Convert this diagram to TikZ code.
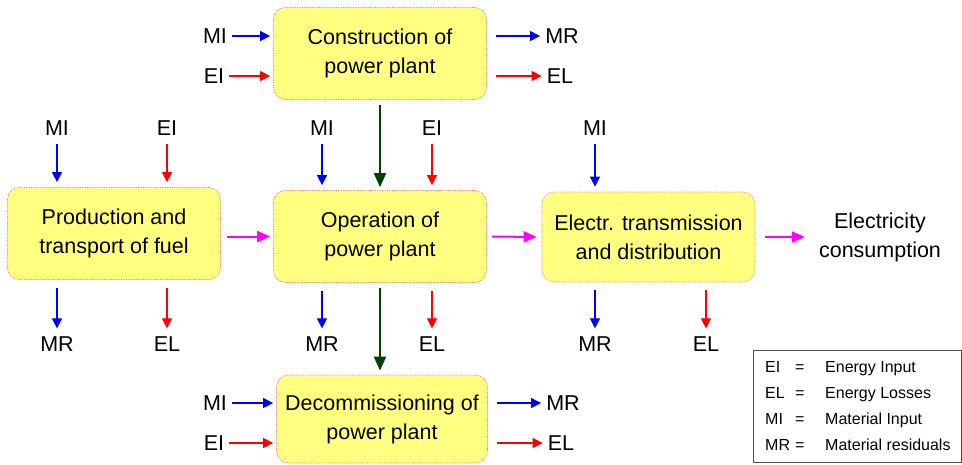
\documentclass[tikz,border=0pt]{standalone}
\usepackage{fontspec}
\setmainfont{Liberation Sans}
\usetikzlibrary{arrows.meta}
\definecolor{boxfill}{RGB}{255,255,128}
\definecolor{boxline}{RGB}{240,110,110}
\definecolor{dgreen}{RGB}{0,64,0}
\definecolor{mag}{RGB}{255,0,255}
\tikzset{
  x=1pt,y=-1pt,
  procbox/.style={draw=boxline, densely dotted, line width=0.7pt, fill=boxfill,
     rounded corners=12pt, align=center, font=\fontsize{21.5}{29}\selectfont,
     minimum width=213pt, minimum height=92pt, inner sep=0pt},
  lab/.style={font=\fontsize{21.5}{25}\selectfont, inner sep=0pt},
  arr/.style={line width=1.1pt, -{Triangle[length=10pt,width=10pt]}},
  mi/.style={arr, blue},
  ei/.style={arr, red},
  flow/.style={line width=2pt, mag, -{Triangle[length=13pt,width=11pt]}},
  gflow/.style={line width=2pt, dgreen, -{Triangle[length=14pt,width=12pt]}},
  hin/.style={shorten <=5pt, shorten >=3pt},
  hout/.style={shorten <=9pt, shorten >=5pt},
  vin/.style={shorten <=8pt, shorten >=5pt},
  vout/.style={shorten <=8pt, shorten >=8pt},
  leg/.style={font=\fontsize{16}{19}\selectfont, inner sep=0pt, anchor=base west},
}
\begin{document}
\begin{tikzpicture}
\useasboundingbox (0,0) rectangle (962,464);
% boxes
\node[procbox] (cons) at (380,53.5) {Construction of\\power plant};
\node[procbox] (prod) at (114,233.5) {Production and\\transport of fuel};
\node[procbox] (op) at (380,236.5) {Operation of\\power plant};
\node[procbox, minimum height=90pt] (el) at (648.5,237) {Electr. transmission\\and distribution};
\node[procbox, minimum height=88pt, minimum width=211pt] (dec) at (382,419) {Decommissioning of\\power plant};
\node[lab, align=center, font=\fontsize{21.5}{29}\selectfont] (use) at (880,237) {Electricity\\consumption};

% construction side labels
\node[lab] (cmi) at (215,36) {MI};
\node[lab] (cei) at (214,76) {EI};
\node[lab] (cmr) at (562,36) {MR};
\node[lab] (cel) at (560,76) {EL};
\draw[mi,hin] (cmi.east) -- (cmi.east -| cons.west);
\draw[ei,hin] (cei.east) -- (cei.east -| cons.west);
\draw[mi,hout] (cons.east |- cmr.west) -- (cmr.west);
\draw[ei,hout] (cons.east |- cel.west) -- (cel.west);

% decommissioning side labels
\node[lab] (dmi) at (215,403) {MI};
\node[lab] (dei) at (214,443) {EI};
\node[lab] (dmr) at (563,403) {MR};
\node[lab] (del) at (561,443) {EL};
\draw[mi,hin] (dmi.east) -- (dmi.east -| dec.west);
\draw[ei,hin] (dei.east) -- (dei.east -| dec.west);
\draw[mi,hout] (dec.east |- dmr.west) -- (dmr.west);
\draw[ei,hout] (dec.east |- del.west) -- (del.west);

% production
\node[lab] (pmi) at (57,128) {MI};
\node[lab] (pei) at (167,128) {EI};
\node[lab] (pmr) at (57,344) {MR};
\node[lab] (pel) at (167,344) {EL};
\draw[mi,vin] (pmi.south) -- (pmi.south |- prod.north);
\draw[ei,vin] (pei.south) -- (pei.south |- prod.north);
\draw[mi,vout] (prod.south -| pmr.north) -- (pmr.north);
\draw[ei,vout] (prod.south -| pel.north) -- (pel.north);

% operation
\node[lab] (omi) at (322,128) {MI};
\node[lab] (oei) at (432,128) {EI};
\node[lab] (omr) at (322,344) {MR};
\node[lab] (oel) at (432,344) {EL};
\draw[mi,vin] (omi.south) -- (omi.south |- op.north);
\draw[ei,vin] (oei.south) -- (oei.south |- op.north);
\draw[mi,vout] (op.south -| omr.north) -- (omr.north);
\draw[ei,vout] (op.south -| oel.north) -- (oel.north);

% electricity transmission
\node[lab] (emi) at (595,128) {MI};
\node[lab] (emr) at (595,344) {MR};
\node[lab] (eel) at (706,344) {EL};
\draw[mi,vin] (emi.south) -- (emi.south |- el.north);
\draw[mi,vout] (el.south -| emr.north) -- (emr.north);
\draw[ei,vout] (el.south -| eel.north) -- (eel.north);

% main flows
\draw[flow, shorten <=6pt, shorten >=3pt] (prod.east |- op.west) -- (op.west);
\draw[flow, shorten <=5pt, shorten >=5pt] (op.east) -- (el.west);
\draw[flow, shorten <=10pt, shorten >=14pt] (el.east) -- (use.west);
\draw[gflow, shorten <=5pt, shorten >=3pt] (cons.south) -- (op.north);
\draw[gflow, shorten <=5pt, shorten >=4pt] (op.south) -- (op.south |- dec.north);

% legend
\node[draw=black!70, line width=0.8pt, minimum width=208pt, minimum height=112pt, inner sep=0pt, anchor=north west] (legbox) at (753,350) {};
\node[leg] (l1a) at (765,372) {EI};
\node[leg] (l1b) at (795,372) {=};
\node[leg] (l1c) at (825,372) {Energy Input};
\node[leg] (l2a) at (765,398) {EL};
\node[leg] (l2b) at (795,398) {=};
\node[leg] (l2c) at (825,398) {Energy Losses};
\node[leg] (l3a) at (765,424) {MI};
\node[leg] (l3b) at (795,424) {=};
\node[leg] (l3c) at (825,424) {Material Input};
\node[leg] (l4a) at (765,450) {MR};
\node[leg] (l4b) at (795,450) {=};
\node[leg] (l4c) at (825,450) {Material residuals};
\end{tikzpicture}
\end{document}
